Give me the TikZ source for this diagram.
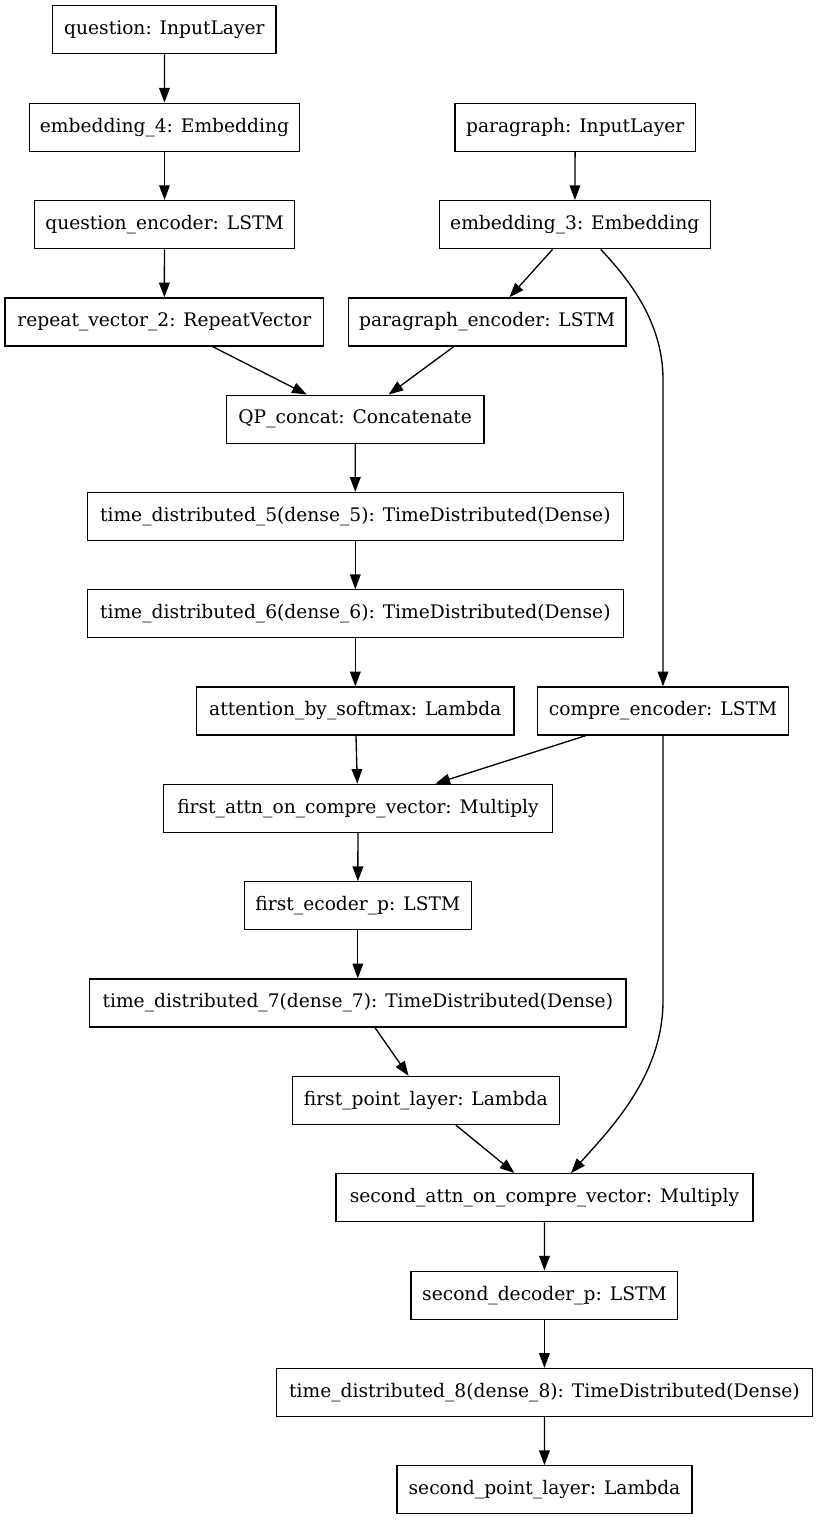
\documentclass[tikz,border=0pt]{standalone}
\usepackage{fontspec}
\setmainfont{DejaVu Serif}
\usetikzlibrary{arrows.meta,calc}
\tikzset{
  layer/.style={draw=black, line width=1pt, rectangle, minimum height=36pt, inner sep=0pt,
    font=\fontsize{14pt}{16pt}\selectfont, text=black},
  bw/.style={minimum width=#1*0.75pt},
  edge/.style={draw=black, line width=1pt, -{Triangle[length=11pt,width=8pt]}}
}
\begin{document}
\begin{tikzpicture}[x=0.75pt,y=-0.75pt]
\fill[white] (0,0) rectangle (818,1520);
\useasboundingbox (0,0) rectangle (818,1520);

\node[layer,bw=223.3] (q)      at (164.4,29.8)   {question: InputLayer};
\node[layer,bw=270.4] (emb4)   at (164.5,127.2)  {embedding\_4: Embedding};
\node[layer,bw=240.3] (par)    at (575.2,127.3)  {paragraph: InputLayer};
\node[layer,bw=260.4] (qenc)   at (164.5,224.6)  {question\_encoder: LSTM};
\node[layer,bw=271.0] (emb3)   at (574.8,224.7)  {embedding\_3: Embedding};
\node[layer,bw=318.7] (rep)    at (164.3,322.0)  {repeat\_vector\_2: RepeatVector};
\node[layer,bw=277.7] (penc)   at (487.2,322.0)  {paragraph\_encoder: LSTM};
\node[layer,bw=257.7] (qp)     at (355.2,419.2)  {QP\_concat: Concatenate};
\node[layer,bw=536.0] (td5)    at (355.3,516.5)  {time\_distributed\_5(dense\_5): TimeDistributed(Dense)};
\node[layer,bw=536.0] (td6)    at (355.3,613.8)  {time\_distributed\_6(dense\_6): TimeDistributed(Dense)};
\node[layer,bw=317.3] (attn)   at (355.3,711.0)  {attention\_by\_softmax: Lambda};
\node[layer,bw=250.6] (compre) at (663.0,711.0)  {compre\_encoder: LSTM};
\node[layer,bw=389.4] (fattn)  at (358.0,808.3)  {first\_attn\_on\_compre\_vector: Multiply};
\node[layer,bw=227.0] (fenc)   at (357.8,905.8)  {first\_ecoder\_p: LSTM};
\node[layer,bw=536.3] (td7)    at (357.8,1003.0) {time\_distributed\_7(dense\_7): TimeDistributed(Dense)};
\node[layer,bw=267.0] (fpoint) at (425.8,1100.5) {first\_point\_layer: Lambda};
\node[layer,bw=417.0] (sattn)  at (544.5,1197.7) {second\_attn\_on\_compre\_vector: Multiply};
\node[layer,bw=266.7] (sdec)   at (544.4,1295.2) {second\_decoder\_p: LSTM};
\node[layer,bw=536.0] (td8)    at (544.4,1392.5) {time\_distributed\_8(dense\_8): TimeDistributed(Dense)};
\node[layer,bw=295.0] (spoint) at (544.5,1489.8) {second\_point\_layer: Lambda};

\draw[edge] (q) -- (emb4);
\draw[edge] (emb4) -- (qenc);
\draw[edge] (qenc) -- (rep);
\draw[edge] (par) -- (emb3);
\draw[edge] (emb3) -- (penc);
\draw[edge] (rep) -- (qp);
\draw[edge] (penc) -- (qp);
\draw[edge] ($(emb3.south)+(25.9,0)$) .. controls ($(emb3.south)+(50.2,26)$) and ($(compre.north)+(0,-367)$) .. ($(compre.north)+(0,-307)$) -- (compre.north);
\draw[edge] (qp) -- (td5);
\draw[edge] (td5) -- (td6);
\draw[edge] (td6) -- (attn);
\draw[edge] (attn) -- (fattn);
\draw[edge] (compre) -- (fattn);
\draw[edge] (fattn) -- (fenc);
\draw[edge] (fenc) -- (td7);
\draw[edge] (td7) -- (fpoint);
\draw[edge] (fpoint) -- (sattn);
\draw[edge] (compre.south) -- ($(compre.south)+(0,265)$) .. controls ($(compre.south)+(0,340)$) and ($(sattn.north)+(65.5,-43.7)$) .. ($(sattn.north)+(26.5,0)$);
\draw[edge] (sattn) -- (sdec);
\draw[edge] (sdec) -- (td8);
\draw[edge] (td8) -- (spoint);
\end{tikzpicture}
\end{document}
